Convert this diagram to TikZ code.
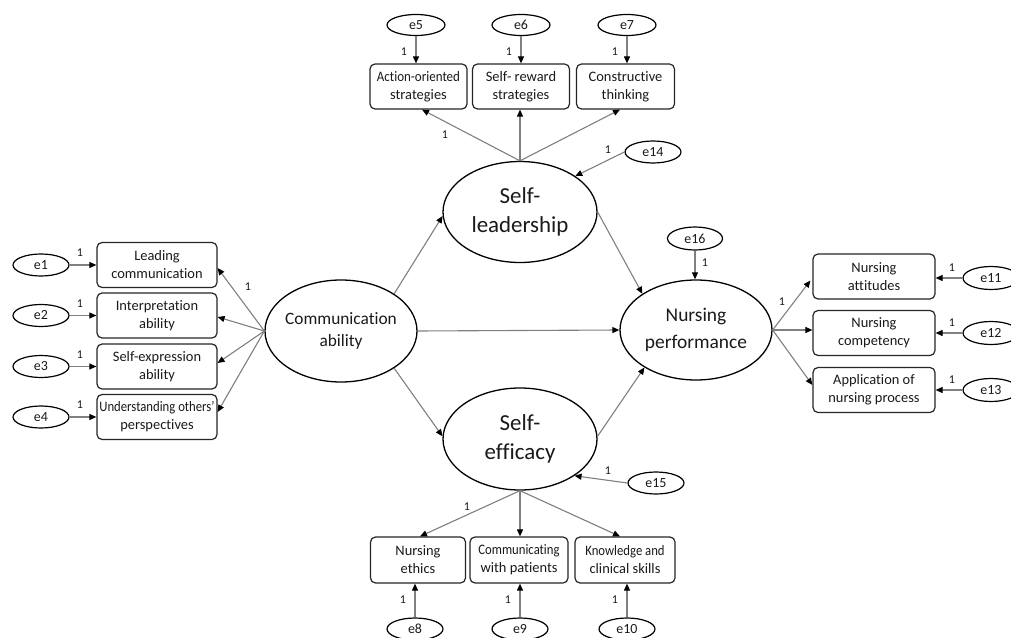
\documentclass[tikz,border=0pt]{standalone}
\usepackage{fontspec}
\setmainfont{Carlito}[Ligatures=NoCommon,RawFeature={-liga;-dlig}]
\usetikzlibrary{arrows.meta,shapes.geometric,calc}
\definecolor{lgray}{HTML}{808080}
\definecolor{txt}{HTML}{1a1a1a}
\newcommand{\cnd}[2][0.88]{\scalebox{#1}[1]{#2}}
\begin{document}
\begin{tikzpicture}[x=1bp,y=-1bp,
  lat/.style={ellipse,draw=black,line width=1.3bp,inner sep=0pt},
  lattxt/.style={inner sep=0pt,align=center,text=txt},
  err/.style={ellipse,draw=black,line width=1.2bp,minimum width=56bp,minimum height=22bp,inner sep=0pt,font=\fontsize{14}{16}\selectfont,text=txt},
  ind/.style={draw=black!85,rounded corners=5bp,line width=1.2bp,minimum height=45bp,inner sep=0pt,align=center,font=\fontsize{14.5}{18}\selectfont,text=txt},
  pth/.style={draw=lgray,line width=1.1bp,-{Triangle[length=7bp,width=6bp,color=black]}},
  one/.style={font=\fontsize{12}{14}\selectfont,text=txt,inner sep=0pt},
]
\useasboundingbox[fill=white] (0,0) rectangle (1011,638);

% latent variables
\node[lat,minimum width=152bp,minimum height=102bp] (CA) at (341,331) {};
\node[lattxt,font=\fontsize{17.4}{22}\selectfont] (CAt) at (CA) {Communication\\ability};
\node[lat,minimum width=154bp,minimum height=101bp] (SL) at (520,212) {};
\node[lattxt,font=\fontsize{23}{29}\selectfont] (SLt) at (SL) {Self-\\leadership};
\node[lat,minimum width=154bp,minimum height=102bp] (SE) at (520,439) {};
\node[lattxt,font=\fontsize{23}{29}\selectfont] (SEt) at (SE) {Self-\\efficacy};
\node[lat,minimum width=152bp,minimum height=100bp] (NP) at (696,330) {};
\node[lattxt,font=\fontsize{19.5}{27}\selectfont] (NPt) at (NP) {Nursing\\performance};

% left indicators
\node[ind,minimum width=120bp] (L1) at (157,265) {Leading\\communication};
\node[ind,minimum width=120bp] (L2) at (157,315.5) {Interpretation\\ability};
\node[ind,minimum width=120bp] (L3) at (157,366.5) {Self-expression\\ability};
\node[ind,minimum width=120bp] (L4) at (157,417) {\cnd{Understanding others'}\\perspectives};
\node[err] (e1) at (41,265) {e1};
\node[err] (e2) at (41,315.5) {e2};
\node[err] (e3) at (41,366.5) {e3};
\node[err] (e4) at (41,417) {e4};
\foreach \i in {1,2,3,4}{\draw[pth] (e\i) -- (L\i);}
\node[one] (o1) at (80,253) {1};
\node[one] (o2) at (80,303.5) {1};
\node[one] (o3) at (80,354.5) {1};
\node[one] (o4) at (80,405) {1};
\draw[pth] (CA.west) -- ($(L1.east)+(0,3)$);
\draw[pth] (CA.west) -- ($(L2.east)+(0,1.5)$);
\draw[pth] (CA.west) -- ($(L3.east)+(0,-3.5)$);
\draw[pth] (CA.west) -- ($(L4.east)+(0,-5)$);
\node[one] (oCA) at (248,287) {1};

% top indicators
\node[ind,minimum width=97bp] (T1) at (418.5,86.5) {\cnd[0.9]{Action-oriented}\\strategies};
\node[ind,minimum width=97bp] (T2) at (521,86.5) {Self- reward\\strategies};
\node[ind,minimum width=98bp] (T3) at (625.5,86.5) {Constructive\\thinking};
\node[err,minimum width=58bp,minimum height=21bp] (e5) at (416,25) {e5};
\node[err,minimum width=58bp,minimum height=21bp] (e6) at (521,25) {e6};
\node[err,minimum width=58bp,minimum height=21bp] (e7) at (627,25) {e7};
\draw[pth] (e5.south) -- (e5.south |- T1.north);
\draw[pth] (e6.south) -- (e6.south |- T2.north);
\draw[pth] (e7.south) -- (e7.south |- T3.north);
\node[one] (o5) at (404,52) {1};
\node[one] (o6) at (509,52) {1};
\node[one] (o7) at (615,52) {1};
\draw[pth] (SL.north) -- ($(T1.south)+(3.5,0)$);
\draw[pth] (SL.north) -- (SL.north |- T2.south);
\draw[pth] (SL.north) -- ($(T3.south)+(-5.5,0)$);
\node[one] (oSL) at (445,135) {1};
\node[err] (e14) at (653,152) {e14};
\draw[pth] (e14.west) -- (SL.33);
\node[one] (o14) at (608,150) {1};

% right indicators
\node[ind,minimum width=122bp] (R1) at (874,276.5) {Nursing\\attitudes};
\node[ind,minimum width=122bp] (R2) at (874,333) {Nursing\\competency};
\node[ind,minimum width=122bp] (R3) at (874,390) {Application of\\nursing process};
\node[err,minimum height=23bp] (e11) at (991,278) {e11};
\node[err,minimum height=23bp] (e12) at (991,333) {e12};
\node[err,minimum height=23bp] (e13) at (991,390) {e13};
\draw[pth] (e11.west) -- (e11.west -| R1.east);
\draw[pth] (e12.west) -- (e12.west -| R2.east);
\draw[pth] (e13.west) -- (e13.west -| R3.east);
\node[one] (o11) at (952,268) {1};
\node[one] (o12) at (952,323) {1};
\node[one] (o13) at (952,380) {1};
\draw[pth] (NP.east) -- ($(R1.west)+(-2,4)$);
\draw[pth] (NP.east) -- (NP.east -| R2.west);
\draw[pth] (NP.east) -- ($(R3.west)+(0,-5)$);
\node[one] (oNP) at (782,302) {1};
\node[err,minimum width=55bp,minimum height=23bp] (e16) at (695,238.5) {e16};
\draw[pth] (e16.south) -- (e16.south |- NP.north);
\node[one] (o16) at (705,263) {1};

% bottom indicators
\node[ind,minimum width=95bp,minimum height=46bp] (B1) at (418,560) {Nursing\\ethics};
\node[ind,minimum width=98bp,minimum height=46bp] (B2) at (519,560) {\cnd{Communicating}\\with patients};
\node[ind,minimum width=100bp,minimum height=46bp] (B3) at (625,560) {\cnd{Knowledge and}\\clinical skills};
\node[err] (e8) at (415,629) {e8};
\node[err] (e9) at (520,629) {e9};
\node[err] (e10) at (627,629) {e10};
\draw[pth] (e8.north) -- (e8.north |- B1.south);
\draw[pth] (e9.north) -- (e9.north |- B2.south);
\draw[pth] (e10.north) -- (e10.north |- B3.south);
\node[one] (o8) at (403,600) {1};
\node[one] (o9) at (508,600) {1};
\node[one] (o10) at (615,600) {1};
\draw[pth] (SE.south) -- ($(B1.north)+(2,0)$);
\draw[pth] (SE.south) -- (SE.south |- B2.north);
\draw[pth] (SE.south) -- ($(B3.north)+(-5,0)$);
\node[one] (oSE) at (467,507) {1};
\node[err] (e15) at (656,483) {e15};
\draw[pth] (e15.west) -- (SE.-34);
\node[one] (o15) at (608,471) {1};

% structural paths
\draw[pth] (CA.35) -- (SL.183);
\draw[pth] (CA.-35) -- (SE.178);
\draw[pth] (CA.east) -- (NP.west);
\draw[pth] (SL.0) -- (NP.146);
\draw[pth] (SE.2) -- (NP.216);
\end{tikzpicture}
\end{document}
